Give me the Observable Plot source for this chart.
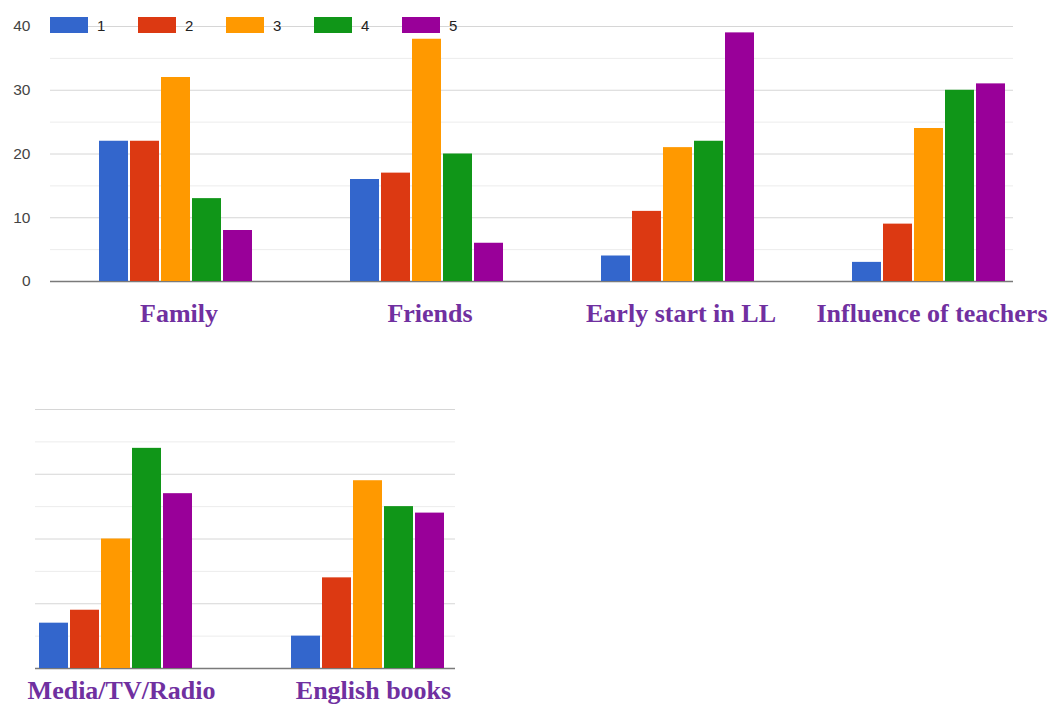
<!DOCTYPE html>
<html>
<head>
<meta charset="utf-8">
<script src="https://cdn.jsdelivr.net/npm/d3@7"></script>
<script src="https://cdn.jsdelivr.net/npm/@observablehq/plot@0.6"></script>
<style>
  html, body { margin: 0; padding: 0; background: #fff; width: 1049px; height: 706px; overflow: hidden; }
  #root { position: relative; width: 1049px; height: 706px; }
  .layer { position: absolute; left: 0; }
  .layer svg { display: block; }
  #legend { position: absolute; left: 50px; top: 17px; display: flex; font: 15px "Liberation Sans", Arial, sans-serif; color: #222; }
  #legend .item { display: flex; align-items: center; width: 88px; height: 16px; }
  #legend .sw { width: 38px; height: 16px; margin-right: 9px; box-sizing: border-box; }
</style>
</head>
<body>
<div id="root"></div>
<script>
// ---- data ----
const ratings = ["1", "2", "3", "4", "5"];
const colors = ["#3366cc", "#dc3912", "#ff9900", "#109618", "#990099"];
const topCategories = ["Family", "Friends", "Early start in LL", "Influence of teachers"];
const bottomCategories = ["Media/TV/Radio", "English books"];
const family = [22, 22, 32, 13, 8];
const friends = [16, 17, 38, 20, 6];
const earlyStart = [4, 11, 21, 22, 39];
const teachers = [3, 9, 24, 30, 31];
const media = [7, 9, 20, 34, 27];
const books = [5, 14, 29, 25, 24];
const yTicks = [0, 10, 20, 30, 40];
const majorGrid = [10, 20, 30, 40];
const minorGrid = [5, 15, 25, 35];

const toRows = (cats, series) => cats.flatMap((c, i) => ratings.map((r, j) => ({category: c, rating: r, value: series[i][j]})));
const topData = toRows(topCategories, [family, friends, earlyStart, teachers]);
const bottomData = toRows(bottomCategories, [media, books]);

const root = document.getElementById("root");
function place(node, top) {
  const d = document.createElement("div");
  d.className = "layer";
  d.style.top = top + "px";
  d.appendChild(node);
  root.appendChild(d);
}

const labelFont = {fontSize: 26, fontWeight: "bold", fontFamily: "'Liberation Serif', 'Times New Roman', serif", fill: "#7030a0"};

function gridPlot({width, marginLeft, height, marginTop, marginBottom, withAxis}) {
  return Plot.plot({
    width, height, marginLeft, marginRight: 0, marginTop, marginBottom,
    style: {background: "transparent"},
    x: {axis: null},
    y: {domain: [0, 40], axis: null},
    marks: [
      Plot.ruleY(minorGrid, {stroke: "#ececec", strokeWidth: 1}),
      Plot.ruleY(majorGrid, {stroke: "#d6d6d6", strokeWidth: 1}),
      Plot.ruleY([0], {stroke: "#7a7a7a", strokeWidth: 1.6}),
      withAxis ? Plot.axisY(yTicks, {tickSize: 0, tickPadding: 20, fontSize: 15.5, fill: "#444", fontFamily: "'Liberation Sans', Arial, sans-serif", label: null}) : null
    ]
  });
}

function barPlot({data, cats, width, height, marginTop, marginBottom, fxRange, tickPadding, dx}) {
  return Plot.plot({
    width, height, marginLeft: 0, marginRight: 0, marginTop, marginBottom,
    style: {background: "transparent", overflow: "visible"},
    fx: {domain: cats, range: fxRange, padding: 0, label: null},
    x: {domain: ratings, paddingInner: 0.05, paddingOuter: 1.5, axis: null},
    y: {domain: [0, 40], axis: null},
    color: {domain: ratings, range: colors},
    marks: [
      Plot.barY(data, {fx: "category", x: "rating", y: "value", fill: "rating"}),
      Plot.axisFx({anchor: "bottom", tickSize: 0, tickPadding, label: null, dx, ...labelFont})
    ]
  });
}

// top chart
place(gridPlot({width: 1013, marginLeft: 50, height: 331, marginTop: 26, marginBottom: 50, withAxis: true}), 0);
place(barPlot({data: topData, cats: topCategories, width: 1049, height: 331, marginTop: 26, marginBottom: 50, fxRange: [50, 1054], tickPadding: 22.5, dx: 3}), 0);

// bottom chart
place(gridPlot({width: 455, marginLeft: 35, height: 323, marginTop: 26, marginBottom: 38, withAxis: false}), 383);
place(barPlot({data: bottomData, cats: bottomCategories, width: 455, height: 323, marginTop: 26, marginBottom: 38, fxRange: [-10, 494], tickPadding: 12.5, dx: 5}), 383);

// legend
const legend = document.createElement("div");
legend.id = "legend";
ratings.forEach((r, i) => {
  const item = document.createElement("div");
  item.className = "item";
  const sw = document.createElement("div");
  sw.className = "sw";
  sw.style.background = colors[i];
  const t = document.createElement("span");
  t.textContent = r;
  item.appendChild(sw);
  item.appendChild(t);
  legend.appendChild(item);
});
root.appendChild(legend);
</script>
</body>
</html>
